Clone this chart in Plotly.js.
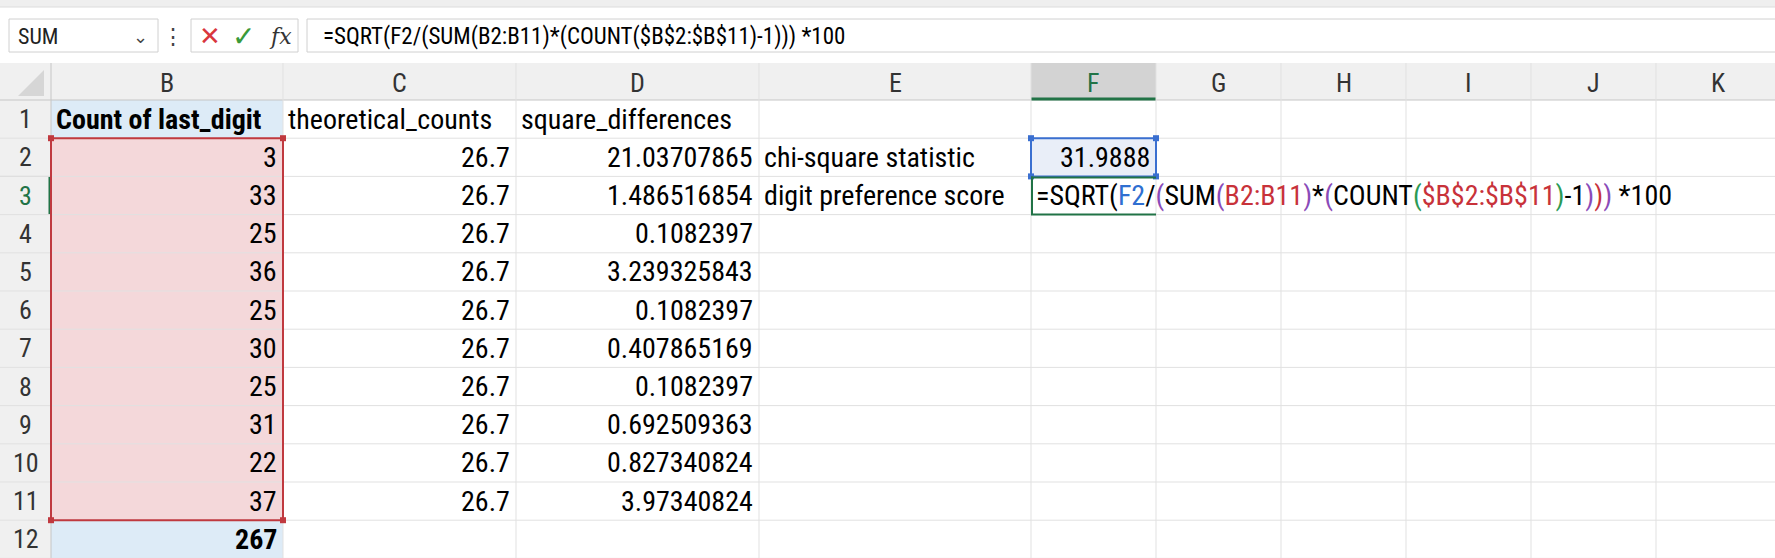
<!DOCTYPE html>
<html>
<head>
<meta charset="utf-8">
<script src="https://cdn.plot.ly/plotly-3.0.1.min.js"></script>
<style>html,body{margin:0;padding:0;background:#fff}#chart{width:1775px;height:558px}</style>
</head>
<body>
<div id="chart"></div>
<script>
// sheet contents
const colLetters = ["B", "C", "D", "E", "F", "G", "H", "I", "J", "K"];
const headerRow = ["Count of last_digit", "theoretical_counts", "square_differences"];
const lastDigitCounts = [3, 33, 25, 36, 25, 30, 25, 31, 22, 37];
const theoreticalCounts = [26.7, 26.7, 26.7, 26.7, 26.7, 26.7, 26.7, 26.7, 26.7, 26.7];
const squareDiffs = ["21.03707865", "1.486516854", "0.1082397", "3.239325843", "0.1082397",
  "0.407865169", "0.1082397", "0.692509363", "0.827340824", "3.97340824"];
const totalCount = 267;
const labelsE = ["chi-square statistic", "digit preference score"];
const chiSquare = "31.9888";
const formulaText = "=SQRT(F2/(SUM(B2:B11)*(COUNT($B$2:$B$11)-1))) *100";
const nameBox = "SUM";

// layout geometry (pixels)
const colEdges = [51, 283, 516, 759, 1031, 1156, 1281, 1406, 1531, 1656, 1781];
const headTop = 63, rowTop = 100, rowH = 38.2, nRows = 12;
const rowY = (r) => rowTop + (r - 1) * rowH; // top of row r
const FONT = "Liberation Sans Narrow, Arial Narrow, Roboto Condensed, Liberation Sans, sans-serif";
const CELL = 28;

const shapes = [];
const ann = [];
const rect = (x0, y0, x1, y1, fill, line, lw) => shapes.push({
  type: "rect", xref: "x", yref: "y", x0, y0, x1, y1,
  fillcolor: fill || "rgba(0,0,0,0)", line: { color: line || "rgba(0,0,0,0)", width: lw || 0 }, layer: "below",
});
const line = (x0, y0, x1, y1, color, w) => shapes.push({
  type: "line", xref: "x", yref: "y", x0, y0, x1, y1, line: { color, width: w || 1 },
});
const text = (x, y, t, opts) => ann.push(Object.assign({
  x, y, xref: "x", yref: "y", text: t, showarrow: false, xanchor: "left", yanchor: "middle",
  font: { family: FONT, size: CELL, color: "#000" },
}, opts || {}));

// top chrome + formula bar
rect(0, 0, 1775, 7, "#efefef");
line(0, 7, 1775, 7, "#dcdcdc", 1);
rect(9, 19, 158, 52, "#fff", "#d0d0d0", 1);
text(16, 36, nameBox, { font: { family: FONT, size: 22, color: "#222" } });
text(140, 36, "⌄", { xanchor: "center", font: { family: FONT, size: 18, color: "#444" } });
text(173, 36, "⋮", { xanchor: "center", font: { family: FONT, size: 22, color: "#444" } });
rect(191, 19, 298, 52, "#fff", "#d0d0d0", 1);
text(210, 36, "✕", { xanchor: "center", font: { family: FONT, size: 26, color: "#d9363e" } });
text(243, 36, "✓", { xanchor: "center", font: { family: FONT, size: 28, color: "#3a9a3a" } });
text(280, 36, "<i>fx</i>", { xanchor: "center", font: { family: "DejaVu Serif, serif", size: 22, color: "#333" } });
rect(307, 19, 1790, 52, "#fff", "#d0d0d0", 1);
text(321, 36, formulaText, { font: { family: FONT, size: 23, color: "#000" } });

// headers
rect(0, headTop, 1775, rowTop, "#f0f0f0");
rect(0, rowTop, colEdges[0], 558, "#f0f0f0");
rect(colEdges[4], headTop, colEdges[5], rowTop, "#d3d3d3");
line(0, rowTop, 1775, rowTop, "#c6c6c6", 1);
line(colEdges[0], headTop, colEdges[0], 558, "#c6c6c6", 1);
shapes.push({ type: "path", xref: "x", yref: "y", path: "M 44 70 L 44 96 L 18 96 Z", fillcolor: "#d6d6d6", line: { width: 0 } });
line(colEdges[4], rowTop - 1, colEdges[5], rowTop - 1, "#217346", 3);
line(0, rowY(3), colEdges[0], rowY(3), "#c6c6c6", 1);
line(colEdges[0] - 1, rowY(3), colEdges[0] - 1, rowY(4), "#217346", 3);

// fills
rect(colEdges[0], rowY(1), colEdges[1], rowY(2), "#ddebf7");
rect(colEdges[0], rowY(2), colEdges[1], rowY(12), "#f4d8da");
rect(colEdges[0], rowY(12), colEdges[1], rowY(13), "#ddebf7");
rect(colEdges[4], rowY(2), colEdges[5], rowY(3), "#e9eef8");

// gridlines
for (let r = 1; r <= nRows; r++) line(0, rowY(r + 1), 1775, rowY(r + 1), "#e1e1e1", 1);
colEdges.slice(1).forEach((x) => line(x, headTop, x, 558, "#e1e1e1", 1));

// column & row headers
colLetters.forEach((c, i) => text((colEdges[i] + colEdges[i + 1]) / 2, (headTop + rowTop) / 2 + 1, c,
  { xanchor: "center", font: { family: FONT, size: 26, color: c === "F" ? "#217346" : "#333" } }));
for (let r = 1; r <= nRows; r++) {
  text(colEdges[0] / 2, rowY(r) + rowH / 2, String(r),
    { xanchor: "center", font: { family: FONT, size: 26, color: r === 3 ? "#217346" : "#333" } });
}

// cells
const mid = (r) => rowY(r) + rowH / 2;
text(colEdges[0] + 3, mid(1), "<b>" + headerRow[0] + "</b>");
text(colEdges[1] + 3, mid(1), headerRow[1]);
text(colEdges[2] + 3, mid(1), headerRow[2]);
lastDigitCounts.forEach((v, i) => {
  text(colEdges[1] - 4, mid(i + 2), String(v), { xanchor: "right" });
  text(colEdges[2] - 4, mid(i + 2), String(theoreticalCounts[i]), { xanchor: "right" });
  text(colEdges[3] - 4, mid(i + 2), squareDiffs[i], { xanchor: "right" });
});
text(colEdges[1] - 4, mid(12), "<b>" + totalCount + "</b>", { xanchor: "right" });
text(colEdges[3] + 3, mid(2), labelsE[0]);
text(colEdges[3] + 3, mid(3), labelsE[1]);
text(colEdges[5] - 4, mid(2), chiSquare, { xanchor: "right" });

// formula being edited in F3, coloured references
const c = (s, col) => `<span style="color:${col}">${s}</span>`;
const coloured = "=SQRT(" + c("F2", "#2f6fd1") + "/" + c("(", "#8a4bb8") + "SUM" + c("(", "#8a4bb8") +
  c("B2:B11", "#c8323a") + c(")", "#8a4bb8") + "*" + c("(", "#8a4bb8") + "COUNT" + c("(", "#2a9a55") +
  c("$B$2:$B$11", "#c8323a") + c(")", "#2a9a55") + "-1" + c(")", "#8a4bb8") + c(")", "#c8323a") +
  c(")", "#8a4bb8") + " *100";
rect(colEdges[4], rowY(3), colEdges[4] + 690, rowY(4), "#fff");
text(colEdges[4] + 3, mid(3), coloured);

// selection borders
shapes.push({ type: "rect", x0: colEdges[0], y0: rowY(2), x1: colEdges[1], y1: rowY(12), line: { color: "#c0393f", width: 2 } });
[[colEdges[0], rowY(2)], [colEdges[1], rowY(2)], [colEdges[0], rowY(12)], [colEdges[1], rowY(12)]]
  .forEach(([x, y]) => shapes.push({ type: "rect", x0: x - 3, y0: y - 3, x1: x + 3, y1: y + 3, fillcolor: "#c0393f", line: { width: 0 } }));
shapes.push({ type: "rect", x0: colEdges[4], y0: rowY(2), x1: colEdges[5], y1: rowY(3), line: { color: "#3a6fd0", width: 2 } });
[[colEdges[4], rowY(2)], [colEdges[5], rowY(2)], [colEdges[4], rowY(3)], [colEdges[5], rowY(3)]]
  .forEach(([x, y]) => shapes.push({ type: "rect", x0: x - 3, y0: y - 3, x1: x + 3, y1: y + 3, fillcolor: "#3a6fd0", line: { width: 0 } }));
line(colEdges[4], rowY(3) + 1, colEdges[5], rowY(3) + 1, "#217346", 2);
line(colEdges[4] + 1, rowY(3), colEdges[4] + 1, rowY(4), "#217346", 2);
line(colEdges[4], rowY(4), colEdges[5], rowY(4), "#217346", 2);

Plotly.newPlot("chart", [], {
  width: 1775, height: 558,
  margin: { l: 0, r: 0, t: 0, b: 0 },
  paper_bgcolor: "#fff", plot_bgcolor: "#fff",
  xaxis: { range: [0, 1775], visible: false, fixedrange: true },
  yaxis: { range: [558, 0], visible: false, fixedrange: true },
  shapes, annotations: ann, showlegend: false,
}, { displayModeBar: false, staticPlot: true });
</script>
</body>
</html>
